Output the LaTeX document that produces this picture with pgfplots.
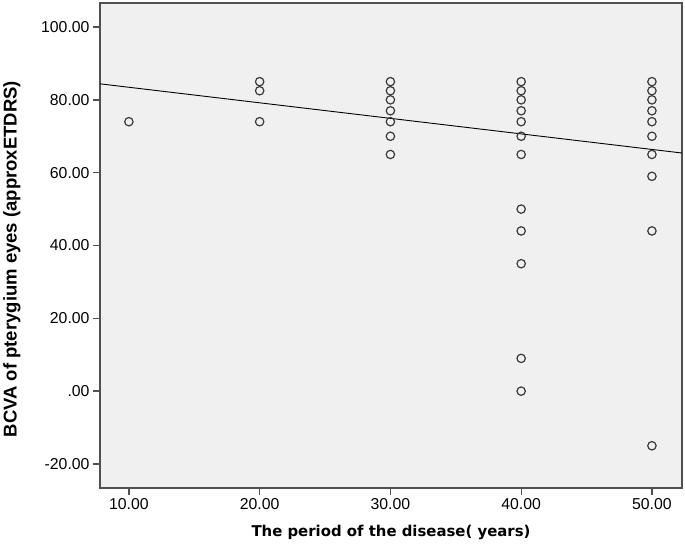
\documentclass[border=0pt]{standalone}
\usepackage{pgfplots}
\pgfplotsset{compat=1.18}
\usepackage{fontspec}
\setmainfont{Liberation Sans}
\newfontfamily\xlabfont{DejaVu Sans}
\definecolor{bgcol}{HTML}{F0F0F0}
\definecolor{framecol}{HTML}{505050}
\definecolor{markcol}{HTML}{3A3A3A}
\begin{document}
\begin{tikzpicture}
\begin{axis}[name=ax, scale only axis, width=582bp, height=485bp,
  xmin=7.79, xmax=52.3, ymin=-26.6, ymax=106.6,
  xtick={10,20,30,40,50}, ytick={-20,0,20,40,60,80,100},
  xticklabels={10.00,20.00,30.00,40.00,50.00},
  yticklabels={-20.00,.00,20.00,40.00,60.00,80.00,100.00},
  tick align=outside, xtick pos=bottom, ytick pos=left,
  major tick length=7bp,
  axis background/.style={fill=bgcol},
  axis line style={draw=framecol, line width=1.3bp},
  every tick/.style={draw=framecol, line width=1.3bp},
  tick label style={font=\fontsize{15.8bp}{18bp}\selectfont},
  every axis x label/.style={at={(axis description cs:0.5,-0.0907)}, anchor=center},
  every axis y label/.style={at={(axis description cs:-0.1512,0.472)}, anchor=center, rotate=90},
  xlabel={\xlabfont\bfseries\fontsize{14.9bp}{18bp}\selectfont The period of the disease( years)},
  ylabel={\bfseries\fontsize{18.5bp}{20bp}\selectfont BCVA of pterygium eyes (approxETDRS)},
]
\addplot[only marks, mark=o, mark size=4.2bp, mark options={draw=markcol, line width=1.2bp}] coordinates {
 (10,74)
 (20,85) (20,82.5) (20,74)
 (30,85) (30,82.5) (30,80) (30,77) (30,74) (30,70) (30,65)
 (40,85) (40,82.5) (40,80) (40,77) (40,74) (40,70) (40,65) (40,50) (40,44) (40,35) (40,9) (40,0)
 (50,85) (50,82.5) (50,80) (50,77) (50,74) (50,70) (50,65) (50,59) (50,44) (50,-15)
};
\addplot[black, line width=0.9bp] coordinates {(7.79,84.4) (52.3,65.4)};
\end{axis}
\pgfresetboundingbox
\path[use as bounding box] ([xshift=-100bp,yshift=-63bp]ax.south west) rectangle ([xshift=3bp,yshift=3bp]ax.north east);
\end{tikzpicture}
\end{document}
